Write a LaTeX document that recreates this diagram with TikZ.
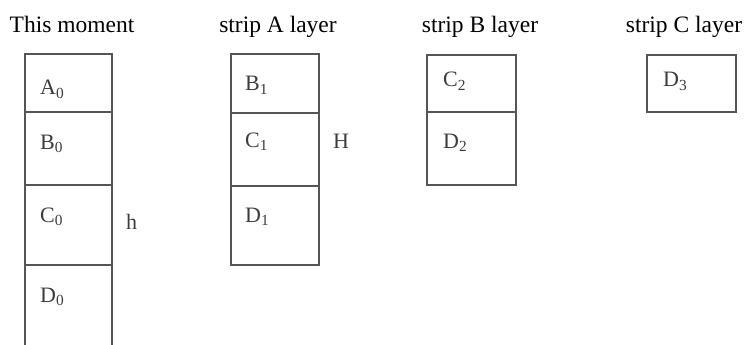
\documentclass[tikz,border=0pt]{standalone}
\usepackage{fontspec}
\setmainfont{Liberation Serif}
\definecolor{boxline}{RGB}{85,85,85}
\definecolor{celltext}{RGB}{60,60,60}
\tikzset{
  cellline/.style={draw=boxline, line width=1.6pt},
  celllabel/.style={anchor=base west, inner sep=0pt, text=celltext, font=\fontsize{22}{26}\selectfont},
  title/.style={anchor=base, inner sep=0pt, font=\fontsize{23.5}{27}\selectfont}
}
\begin{document}
\begin{tikzpicture}[x=1pt,y=-1pt]
\useasboundingbox (0,0) rectangle (745,345);

% titles
\node[title] (tnow) at (72,33) {This moment};
\node[title] (ta) at (278,33) {strip A layer};
\node[title] (tb) at (480,33) {strip B layer};
\node[title] (tc) at (684,33) {strip C layer};

% this moment
\draw[cellline] (25,345) -- (25,54) -- (112,54) -- (112,345);
\draw[cellline] (25,112) -- (112,112);
\draw[cellline] (25,185) -- (112,185);
\draw[cellline] (25,265) -- (112,265);
\node[celllabel] (a0) at (40,95) {A\textsubscript{0}};
\node[celllabel] (b0) at (40,149) {B\textsubscript{0}};
\node[celllabel] (c0) at (40,222) {C\textsubscript{0}};
\node[celllabel] (d0) at (40,302) {D\textsubscript{0}};
\node[celllabel] (h) at (126,229) {h};

% strip A layer
\draw[cellline] (231,54) rectangle (319,265);
\draw[cellline] (231,113) -- (319,113);
\draw[cellline] (231,186) -- (319,186);
\node[celllabel] (b1) at (245,91) {B\textsubscript{1}};
\node[celllabel] (c1) at (245,147) {C\textsubscript{1}};
\node[celllabel] (d1) at (245,222) {D\textsubscript{1}};
\node[celllabel] (bigh) at (333,148) {H};

% strip B layer
\draw[cellline] (427,55) rectangle (516,185);
\draw[cellline] (427,112) -- (516,112);
\node[celllabel] (c2) at (443,87) {C\textsubscript{2}};
\node[celllabel] (d2) at (443,148) {D\textsubscript{2}};

% strip C layer
\draw[cellline] (647,55) rectangle (736,112);
\node[celllabel] (d3) at (663,87) {D\textsubscript{3}};
\end{tikzpicture}
\end{document}
